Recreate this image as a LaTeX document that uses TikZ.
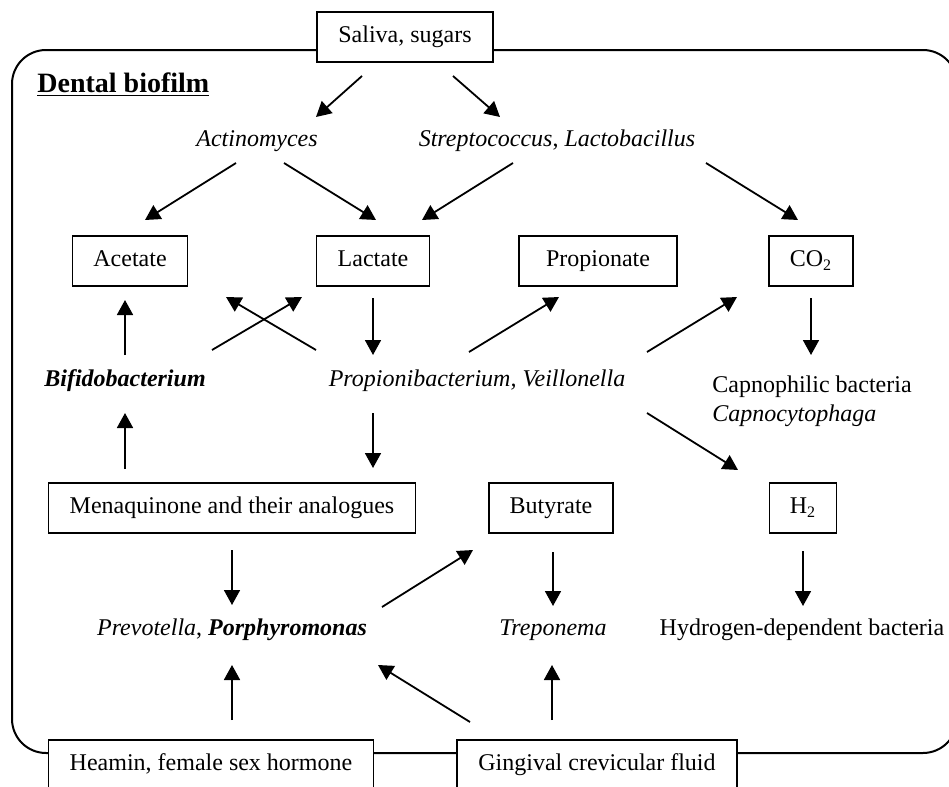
\documentclass[tikz,border=0pt]{standalone}
\usepackage{fontspec}
\setmainfont{Liberation Serif}
\usetikzlibrary{arrows.meta,calc}

\begin{document}
\begin{tikzpicture}[x=0.5pt,y=-0.5pt,
	font=\fontsize{12}{14.5}\selectfont,
	box/.style={draw,line width=0.9pt,fill=white,minimum height=25pt,text height=8pt,text depth=2.5pt},
	lbl/.style={inner sep=0pt,text height=8pt,text depth=2.5pt},
	arr/.style={line width=0.9pt,-{Triangle[length=7.5pt,width=8pt]}}]
	\useasboundingbox (0,0) rectangle (949,787);
	\clip (0,0) rectangle (949,787);
	\draw[line width=1pt,rounded corners=17pt] (12,50) rectangle (957,753);
	
	\node[box,minimum width=88pt] (saliva) at (405,37) {Saliva, sugars};
	\node[anchor=base west,inner sep=0pt,font=\fontsize{14}{17}\selectfont\bfseries] (title) at (37,92) {\underline{Dental biofilm}};
	
	\node[lbl] (act) at (257,141) {\textit{Actinomyces}};
	\node[lbl] (strep) at (557,141) {\textit{Streptococcus}, \textit{Lactobacillus}};
	
	\node[box,minimum width=57.5pt] (acet) at (130,261) {Acetate};
	\node[box,minimum width=56.5pt] (lact) at (373,261) {Lactate};
	\node[box,minimum width=79pt] (propn) at (598,261) {Propionate};
	\node[box,minimum width=42pt] (co2) at (811,261) {CO\textsubscript{2}};
	
	\node[lbl] (bifido) at (125,381) {\textbf{\textit{Bifidobacterium}}};
	\node[lbl] (propi) at (477,381) {\textit{Propionibacterium, Veillonella}};
	\node[anchor=north west,inner sep=0pt,align=left] (capn) at (712,375) {Capnophilic bacteria\\\textit{Capnocytophaga}};
	
	\node[box,minimum width=183.5pt] (mena) at (232,508) {Menaquinone and their analogues};
	\node[box,minimum width=62pt] (buty) at (551,508) {Butyrate};
	\node[box,minimum width=33.5pt] (htwo) at (803,508) {H\textsubscript{2}};
	
	\node[lbl] (prev) at (232,630) {\textit{Prevotella}, \textbf{\textit{Porphyromonas}}};
	\node[lbl] (trep) at (553,630) {\textit{Treponema}};
	\node[lbl] (hyd) at (802,630) {Hydrogen-dependent bacteria};
	
	\node[box,minimum width=162.5pt] (heamin) at (211,765) {Heamin, female sex hormone};
	\node[box,minimum width=140pt] (gcf) at (597,765) {Gingival crevicular fluid};
	
	% arrows
	\draw[arr] ($(saliva)+(-43,39)$) -- ($(act)+(59,-24)$);
	\draw[arr] ($(saliva)+(48,39)$) -- ($(strep)+(-57,-24)$);
	\draw[arr] ($(act)+(-21,22)$) -- ($(acet)+(15,-41)$);
	\draw[arr] ($(act)+(27,22)$) -- ($(lact)+(3,-41)$);
	\draw[arr] ($(strep)+(-44,22)$) -- ($(lact)+(49,-41)$);
	\draw[arr] ($(strep)+(149,22)$) -- ($(co2)+(-13,-41)$);
	
	\draw[arr] ($(bifido)+(0,-26)$) -- ($(acet)+(-5,39)$);
	\draw[arr] ($(bifido)+(87,-31)$) -- ($(lact)+(-71,36)$);
	\draw[arr] ($(propi)+(-161,-31)$) -- ($(acet)+(96,36)$);
	\draw[arr] ($(lact)+(0,37)$) -- ($(propi)+(-104,-26)$);
	\draw[arr] ($(propi)+(-8,-29)$) -- ($(propn)+(-39,36)$);
	\draw[arr] ($(propi)+(170,-29)$) -- ($(co2)+(-74,36)$);
	\draw[arr] ($(co2)+(0,37)$) -- ($(co2 |- capn.north)+(0,-20)$);
	
	\draw[arr] ($(mena)+(-107,-39)$) -- ($(bifido)+(0,32)$);
	\draw[arr] ($(propi)+(-104,32)$) -- ($(mena)+(141,-40)$);
	\draw[arr] ($(propi)+(170,32)$) -- ($(htwo)+(-65,-38)$);
	
	\draw[arr] ($(mena)+(0,42)$) -- ($(prev)+(0,-25)$);
	\draw[arr] ($(prev)+(150,-23)$) -- ($(buty)+(-78,42)$);
	\draw[arr] ($(buty)+(2,44)$) -- ($(trep)+(0,-24)$);
	\draw[arr] ($(htwo)+(0,43)$) -- ($(hyd)+(1,-24)$);
	
	\draw[arr] ($(heamin)+(21,-45)$) -- ($(prev)+(0,35)$);
	\draw[arr] ($(gcf)+(-127,-43)$) -- ($(prev)+(146,35)$);
	\draw[arr] ($(gcf)+(-45,-45)$) -- ($(trep)+(-1,35)$);
\end{tikzpicture}
\end{document}
